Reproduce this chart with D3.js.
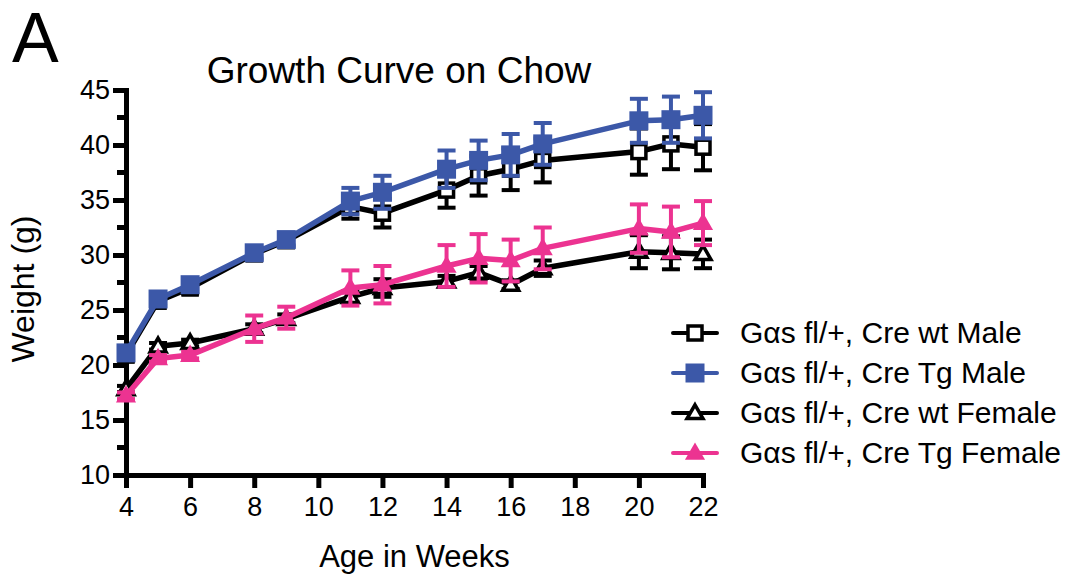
<!DOCTYPE html>
<html>
<head>
<meta charset="utf-8">
<script src="https://cdn.jsdelivr.net/npm/d3@7"></script>
<style>
  body { margin: 0; background: #fff; }
  text { font-family: "Liberation Sans", Arial, Helvetica, sans-serif; fill: #000; }
</style>
</head>
<body>
<div id="chart"></div>
<script>
// weeks of age
const weeks = [4, 5, 6, 8, 9, 11, 12, 14, 15, 16, 17, 20, 21, 22];

// mean weight (g) and error
const wtMale      = [20.9, 25.8, 27.0, 30.1, 31.3, 34.4, 33.8, 35.9, 37.2, 37.8, 38.6, 39.4, 40.1, 39.8];
const wtMaleErr   = [0.5, 0.4, 0.5, 0.5, 0.5, 1.1, 1.3, 1.6, 1.8, 1.9, 2.0, 2.1, 2.3, 2.1];
const tgMale      = [21.1, 26.0, 27.3, 30.2, 31.4, 34.9, 35.7, 37.8, 38.6, 39.1, 40.1, 42.2, 42.3, 42.7];
const tgMaleErr   = [0.4, 0.4, 0.4, 0.5, 0.5, 1.2, 1.5, 1.7, 1.8, 1.9, 1.9, 2.0, 2.1, 2.1];
const wtFemale    = [17.8, 21.7, 22.0, 23.3, 24.2, 26.2, 27.0, 27.6, 28.4, 27.3, 28.8, 30.3, 30.2, 30.1];
const wtFemaleErr = [0.3, 0.3, 0.3, 0.4, 0.4, 0.5, 0.8, 0.5, 0.6, 0.4, 0.7, 1.5, 1.5, 1.3];
const tgFemale    = [17.2, 20.6, 20.9, 23.3, 24.3, 27.0, 27.3, 29.0, 29.7, 29.5, 30.6, 32.4, 32.1, 32.9];
const tgFemaleErr = [0.3, 0.3, 0.3, 1.2, 1.0, 1.6, 1.7, 1.9, 2.2, 1.9, 1.9, 2.2, 2.3, 2.0];

const seriesNames = [
  "G\u03b1s fl/+, Cre wt Male",
  "G\u03b1s fl/+, Cre Tg Male",
  "G\u03b1s fl/+, Cre wt Female",
  "G\u03b1s fl/+, Cre Tg Female"
];

const xTicks = [4, 6, 8, 10, 12, 14, 16, 18, 20, 22];
const yTicks = [10, 15, 20, 25, 30, 35, 40, 45];
const yMinorTicks = [12.5, 17.5, 22.5, 27.5, 32.5, 37.5, 42.5];

const blue = "#3c58a8", pink = "#ec3391";

const series = [
  {name: seriesNames[0], y: wtMale,   err: wtMaleErr,   color: "#000", shape: "square",   open: true},
  {name: seriesNames[1], y: tgMale,   err: tgMaleErr,   color: blue,   shape: "square",   open: false},
  {name: seriesNames[2], y: wtFemale, err: wtFemaleErr, color: "#000", shape: "triangle", open: true},
  {name: seriesNames[3], y: tgFemale, err: tgFemaleErr, color: pink,   shape: "triangle", open: false}
];

const width = 1071, height = 575;
const marginLeft = 126, marginRight = 368, marginTop = 90, marginBottom = 100;

const svg = d3.select("#chart").append("svg")
    .attr("width", width)
    .attr("height", height);

const x = d3.scaleLinear([4, 22], [marginLeft, width - marginRight]);
const y = d3.scaleLinear([10, 45], [height - marginBottom, marginTop]);

// panel letter and title
svg.append("text").attr("x", 12).attr("y", 62).attr("font-size", 70).text("A");
svg.append("text")
    .attr("x", 399).attr("y", 83)
    .attr("text-anchor", "middle")
    .attr("font-size", 37)
    .text("Growth Curve on Chow");

// axes
const axisW = 5;
const gx = svg.append("g")
    .attr("transform", `translate(0,${y(10)})`)
    .call(d3.axisBottom(x).tickValues(xTicks).tickSize(13).tickSizeOuter(0).tickPadding(9));
gx.select(".domain").attr("stroke-width", axisW).attr("stroke-linecap", "square");
gx.selectAll(".tick line").attr("stroke-width", axisW);
gx.selectAll(".tick text").attr("font-size", 27).attr("font-family", null);

const gy = svg.append("g")
    .attr("transform", `translate(${x(4)},0)`)
    .call(d3.axisLeft(y).tickValues(yTicks).tickSize(13).tickSizeOuter(0).tickPadding(3));
gy.select(".domain").attr("stroke-width", axisW).attr("stroke-linecap", "square");
gy.selectAll(".tick line").attr("stroke-width", axisW);
gy.selectAll(".tick text").attr("font-size", 27).attr("font-family", null);

svg.append("g")
    .selectAll("line")
    .data(yMinorTicks)
    .join("line")
      .attr("x1", x(4) - 9).attr("x2", x(4))
      .attr("y1", d => y(d)).attr("y2", d => y(d))
      .attr("stroke", "#000").attr("stroke-width", axisW);

svg.append("text")
    .attr("x", (x(4) + x(22)) / 2).attr("y", 567)
    .attr("text-anchor", "middle")
    .attr("font-size", 31)
    .text("Age in Weeks");

svg.append("text")
    .attr("transform", `translate(34,289) rotate(-90)`)
    .attr("text-anchor", "middle")
    .attr("font-size", 32)
    .text("Weight (g)");

// symbols
function drawMarker(g, s, cx, cy) {
  if (s.shape === "square") {
    const size = s.open ? 14 : 19;
    g.append("rect")
      .attr("x", cx - size / 2).attr("y", cy - size / 2)
      .attr("width", size).attr("height", size)
      .attr("fill", s.open ? "#fff" : s.color)
      .attr("stroke", s.color)
      .attr("stroke-width", s.open ? 3.5 : 0);
  } else {
    const area = s.open ? 110 : 175;
    g.append("path")
      .attr("transform", `translate(${cx},${cy + 1})`)
      .attr("d", d3.symbol(d3.symbolTriangle, area)())
      .attr("fill", s.open ? "#fff" : s.color)
      .attr("stroke", s.color)
      .attr("stroke-width", s.open ? 3.5 : 0);
  }
}

const line = d3.line().x(d => x(d[0])).y(d => y(d[1]));
const capW = 9;

for (const s of series) {
  const g = svg.append("g");
  const pts = weeks.map((w, i) => [w, s.y[i], s.err[i]]);

  // error bars
  const eb = g.append("g").attr("stroke", s.color).attr("stroke-width", 4);
  for (const [w, v, e] of pts) {
    eb.append("line").attr("x1", x(w)).attr("x2", x(w)).attr("y1", y(v - e)).attr("y2", y(v + e));
    eb.append("line").attr("x1", x(w) - capW).attr("x2", x(w) + capW).attr("y1", y(v + e)).attr("y2", y(v + e));
    eb.append("line").attr("x1", x(w) - capW).attr("x2", x(w) + capW).attr("y1", y(v - e)).attr("y2", y(v - e));
  }

  g.append("path")
    .datum(pts)
    .attr("fill", "none")
    .attr("stroke", s.color)
    .attr("stroke-width", 5.5)
    .attr("stroke-linejoin", "round")
    .attr("d", line);

  for (const [w, v] of pts) drawMarker(g, s, x(w), y(v));
}

// legend
const legend = svg.append("g");
series.forEach((s, i) => {
  const ly = 333 + i * 40;
  const g = legend.append("g");
  g.append("line")
    .attr("x1", 673).attr("x2", 717).attr("y1", ly).attr("y2", ly)
    .attr("stroke", s.color).attr("stroke-width", 4).attr("stroke-linecap", "round");
  drawMarker(g, s, 695, ly);
  g.append("text")
    .attr("x", 740).attr("y", ly + 10)
    .attr("font-size", 30)
    .text(s.name);
});
</script>
</body>
</html>
